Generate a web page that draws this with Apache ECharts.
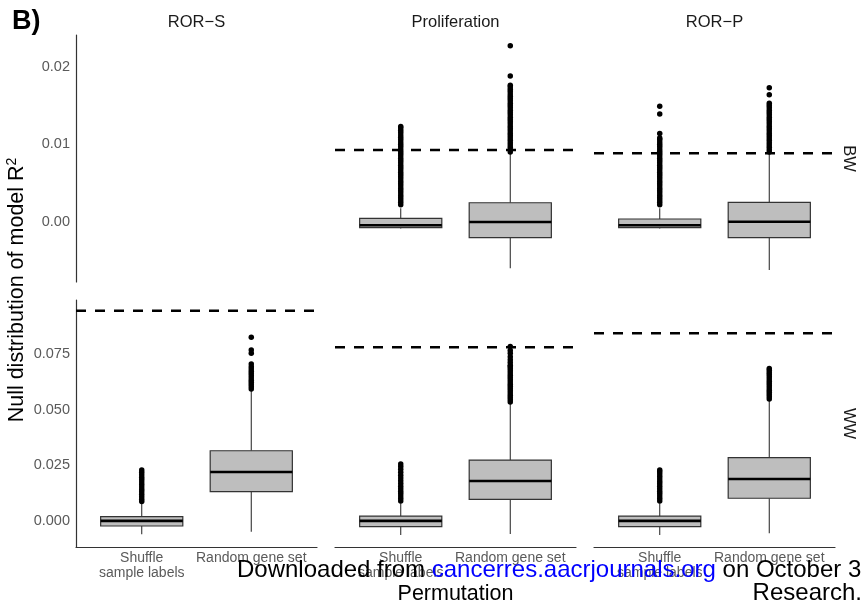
<!DOCTYPE html>
<html><head><meta charset="utf-8">
<script src="https://cdn.jsdelivr.net/npm/echarts@6/dist/echarts.min.js"></script>
<style>html,body{margin:0;padding:0;background:#fff}#c{width:864px;height:606px}</style>
</head><body><div id="c"></div>
<script>
// ---------- data ----------
const scores = ['ROR\u2212S', 'Proliferation', 'ROR\u2212P'];
const groups = ['BW', 'WW'];
const categories = ['Shuffle\nsample labels', 'Random gene set'];
const topTicks = [0, 0.01, 0.02];
const bottomTicks = [0, 0.025, 0.05, 0.075];
// box stats per category: [lowWhisker, Q1, median, Q3, highWhisker]
const bwProlifBoxes = [[-0.00088, -0.00077, -0.00046, 0.00044, 0.00173], [-0.00601, -0.00206, -0.00004, 0.00245, 0.00883]];
const bwRorPBoxes   = [[-0.00088, -0.00077, -0.00046, 0.00035, 0.00173], [-0.00623, -0.00206, 0.00000, 0.00250, 0.00895]];
const wwRorSBoxes   = [[-0.0061, -0.0024, -0.0001, 0.0018, 0.0078], [-0.0050, 0.0131, 0.0219, 0.0315, 0.0592]];
const wwProlifBoxes = [[-0.0064, -0.0027, -0.0001, 0.0021, 0.0078], [-0.0060, 0.0096, 0.0179, 0.0273, 0.0532]];
const wwRorPBoxes   = [[-0.0064, -0.0027, -0.0001, 0.0021, 0.0078], [-0.0057, 0.0101, 0.0188, 0.0284, 0.0547]];
// outliers
const bwProlifShuffleOut = [0.0022,0.0025,0.0028,0.0031,0.0034,0.0037,0.0040,0.0043,0.0046,0.0049,0.0052,0.0055,0.0058,0.0061,0.0064,0.0067,0.0070,0.0073,0.0076,0.0079,0.0082,0.0085,0.0088,0.0091,0.0094,0.0097,0.0100,0.0103,0.0106,0.0109,0.0112,0.0115,0.0118,0.0121,0.0123];
const bwProlifRandomOut = [0.0090,0.0093,0.0096,0.0099,0.0102,0.0105,0.0108,0.0111,0.0114,0.0117,0.0120,0.0123,0.0126,0.0129,0.0132,0.0135,0.0138,0.0141,0.0144,0.0147,0.0150,0.0153,0.0156,0.0159,0.0162,0.0165,0.0168,0.0171,0.0174,0.0176,0.0188,0.0227];
const bwRorPShuffleOut = [0.0022,0.0025,0.0028,0.0031,0.0034,0.0037,0.0040,0.0043,0.0046,0.0049,0.0052,0.0055,0.0058,0.0061,0.0064,0.0067,0.0070,0.0073,0.0076,0.0079,0.0082,0.0085,0.0088,0.0091,0.0094,0.0097,0.0100,0.0103,0.0106,0.0108,0.0114,0.0139,0.0149];
const bwRorPRandomOut = [0.0090,0.0093,0.0096,0.0099,0.0102,0.0105,0.0108,0.0111,0.0114,0.0117,0.0120,0.0123,0.0126,0.0129,0.0132,0.0135,0.0138,0.0141,0.0144,0.0147,0.0150,0.0153,0.0164,0.0173];
const wwRorSShuffleOut = [0.0086,0.0097,0.0108,0.0119,0.0130,0.0141,0.0152,0.0163,0.0174,0.0185,0.0196,0.0207,0.0218,0.0228];
const wwRorSRandomOut = [0.0593,0.0603,0.0613,0.0623,0.0633,0.0643,0.0653,0.0663,0.0673,0.0683,0.0693,0.0706,0.0754,0.0769,0.0826];
const wwProlifShuffleOut = [0.0089,0.0100,0.0111,0.0122,0.0133,0.0144,0.0155,0.0168,0.0180,0.0192,0.0205,0.0218,0.0232,0.0244,0.0255];
const wwProlifRandomOut = [0.0535,0.0545,0.0555,0.0565,0.0575,0.0585,0.0595,0.0605,0.0615,0.0625,0.0635,0.0645,0.0655,0.0665,0.0675,0.0685,0.0695,0.0700,0.0712,0.0725,0.0738,0.0754,0.0767,0.0784];
const wwRorPShuffleOut = [0.0089,0.0100,0.0111,0.0122,0.0133,0.0144,0.0155,0.0166,0.0177,0.0188,0.0199,0.0210,0.0220,0.0228];
const wwRorPRandomOut = [0.0548,0.0558,0.0568,0.0578,0.0588,0.0598,0.0608,0.0618,0.0628,0.0638,0.0648,0.0658,0.0668,0.0678,0.0685];
// observed R^2 (dashed lines), per score
const observedBW = [null, 0.00925, 0.00883];
const observedWW = [0.0946, 0.0781, 0.0844];

// ---------- layout ----------
const colLeft = [76, 335, 594], colW = 241;
const rowTop = [35, 300], rowH = 247;
const FONT = '"Liberation Sans", Arial, Helvetica, sans-serif';
const yRange = [[-0.00778, 0.0241], [-0.01185, 0.0994]];

const panels = [
  {r:0,c:0, boxes:null, out:null, obs:observedBW[0]},
  {r:0,c:1, boxes:bwProlifBoxes, out:[bwProlifShuffleOut, bwProlifRandomOut], obs:observedBW[1]},
  {r:0,c:2, boxes:bwRorPBoxes, out:[bwRorPShuffleOut, bwRorPRandomOut], obs:observedBW[2]},
  {r:1,c:0, boxes:wwRorSBoxes, out:[wwRorSShuffleOut, wwRorSRandomOut], obs:observedWW[0]},
  {r:1,c:1, boxes:wwProlifBoxes, out:[wwProlifShuffleOut, wwProlifRandomOut], obs:observedWW[1]},
  {r:1,c:2, boxes:wwRorPBoxes, out:[wwRorPShuffleOut, wwRorPRandomOut], obs:observedWW[2]}
];

const grid = [], xAxis = [], yAxis = [], series = [];

function renderBox(params, api) {
  const x = api.value(0);
  const lo = api.coord([x, api.value(1)]);
  const q1 = api.coord([x, api.value(2)]);
  const md = api.coord([x, api.value(3)]);
  const q3 = api.coord([x, api.value(4)]);
  const hi = api.coord([x, api.value(5)]);
  const hw = api.size([0.75, 0])[0] / 2;
  const cx = lo[0];
  const st = {stroke: '#333', lineWidth: 1.1, fill: null};
  return {type: 'group', children: [
    {type: 'line', shape: {x1: cx, y1: hi[1], x2: cx, y2: q3[1]}, style: st},
    {type: 'line', shape: {x1: cx, y1: q1[1], x2: cx, y2: lo[1]}, style: st},
    {type: 'rect', shape: {x: cx - hw, y: q3[1], width: 2 * hw, height: q1[1] - q3[1]}, style: {fill: '#bebebe', stroke: '#333', lineWidth: 1.2}},
    {type: 'line', shape: {x1: cx - hw, y1: md[1], x2: cx + hw, y2: md[1]}, style: {stroke: '#000', lineWidth: 2.6}}
  ]};
}

panels.forEach((p, i) => {
  grid.push({left: colLeft[p.c], top: rowTop[p.r], width: colW, height: rowH, containLabel: false});
  const bottom = p.r === 1;
  xAxis.push({
    type: 'value', gridIndex: i, min: 0.4, max: 2.6,
    axisLine: {show: bottom, onZero: false, lineStyle: {color: '#333', width: 1.2}},
    axisTick: {show: false}, splitLine: {show: false},
    axisLabel: {show: bottom, customValues: [1, 2], formatter: v => categories[Math.round(v) - 1],
      color: '#5a5a5a', fontSize: 14, lineHeight: 15, margin: 4, fontFamily: FONT}
  });
  const left = p.c === 0;
  yAxis.push({
    type: 'value', gridIndex: i, min: yRange[p.r][0], max: yRange[p.r][1],
    axisLine: {show: left, onZero: false, lineStyle: {color: '#333', width: 1.2}},
    axisTick: {show: false}, splitLine: {show: false},
    axisLabel: {show: left, customValues: p.r === 0 ? topTicks : bottomTicks,
      formatter: v => p.r === 0 ? v.toFixed(2) : v.toFixed(3),
      color: '#5a5a5a', fontSize: 14.5, margin: 6, fontFamily: FONT}
  });
  if (p.boxes) {
    series.push({
      type: 'custom', xAxisIndex: i, yAxisIndex: i, renderItem: renderBox, silent: true,
      encode: {x: 0, y: [1, 2, 3, 4, 5]},
      data: p.boxes.map((b, k) => [k + 1].concat(b))
    });
    p.out.forEach((arr, k) => {
      series.push({
        type: 'scatter', xAxisIndex: i, yAxisIndex: i, symbolSize: 5.5, silent: true,
        itemStyle: {color: '#000', opacity: 1},
        data: arr.map(v => [k + 1, v])
      });
    });
  }
  if (p.obs !== null) {
    series.push({
      type: 'line', xAxisIndex: i, yAxisIndex: i, symbol: 'none', silent: true,
      lineStyle: {color: '#000', width: 2.5, type: [10, 9]},
      data: [[0.4, p.obs], [2.6, p.obs]]
    });
  }
});

const graphic = [
  {type: 'text', left: 12, top: 8, style: {text: 'B)', font: 'bold 27px ' + FONT, fill: '#000'}},
  {type: 'text', x: 17, y: 290, rotation: Math.PI / 2,
    style: {text: 'Null distribution of model R{sup|2}', align: 'center', verticalAlign: 'middle',
      fontFamily: FONT, fontSize: 21.5, fill: '#000',
      rich: {sup: {fontSize: 14, verticalAlign: 'top', fontFamily: FONT, fill: '#000', padding: [0, 0, 10, 0]}}}},
  {type: 'text', x: 455.5, y: 594, style: {text: 'Permutation', align: 'center', verticalAlign: 'middle', fontFamily: FONT, fontSize: 21.5, fill: '#000'}},
  {type: 'text', x: 848.5, y: 158.5, rotation: -Math.PI / 2, style: {text: groups[0], align: 'center', verticalAlign: 'middle', fontFamily: FONT, fontSize: 16.5, fill: '#1a1a1a'}},
  {type: 'text', x: 848.5, y: 423.5, rotation: -Math.PI / 2, style: {text: groups[1], align: 'center', verticalAlign: 'middle', fontFamily: FONT, fontSize: 16.5, fill: '#1a1a1a'}},
  {type: 'text', x: 237, y: 570, z: 100,
    style: {text: 'Downloaded from {l|cancerres.aacrjournals.org} on October 3', align: 'left', verticalAlign: 'middle',
      fontFamily: FONT, fontSize: 24, fill: '#000', rich: {l: {fontFamily: FONT, fontSize: 24, fill: '#0000ff'}}}},
  {type: 'text', x: 862, y: 593, z: 100, style: {text: 'Research.', align: 'right', verticalAlign: 'middle', fontFamily: FONT, fontSize: 24, fill: '#000'}}
];
scores.forEach((s, c) => {
  graphic.push({type: 'text', x: colLeft[c] + colW / 2, y: 22, style: {text: s, align: 'center', verticalAlign: 'middle', fontFamily: FONT, fontSize: 16.5, fill: '#1a1a1a'}});
});

const chart = echarts.init(document.getElementById('c'), null, {renderer: 'canvas'});
chart.setOption({animation: false, backgroundColor: '#fff', grid, xAxis, yAxis, series, graphic});
</script></body></html>
